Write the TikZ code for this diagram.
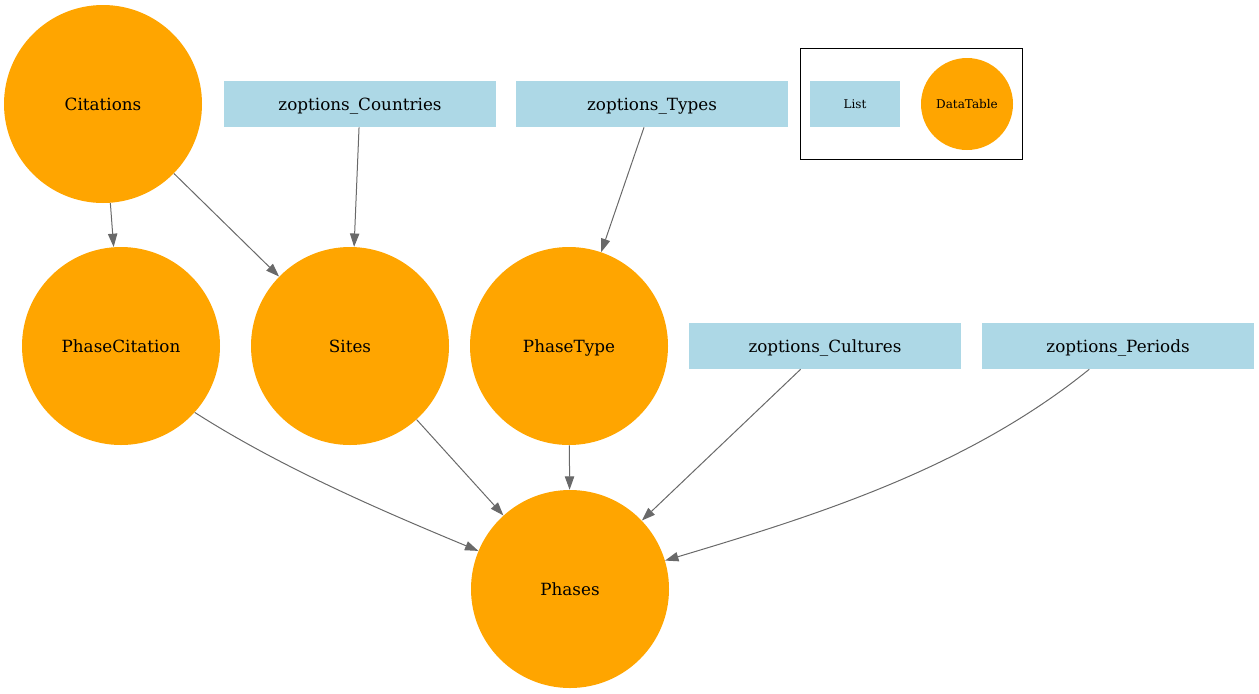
\documentclass[tikz,border=0pt]{standalone}
\usepackage{fontspec}
\setmainfont{DejaVu Serif}
\usetikzlibrary{arrows.meta}
\definecolor{dtorange}{HTML}{FFA500}
\definecolor{listblue}{HTML}{ADD8E6}
\definecolor{edgegray}{HTML}{696969}
\tikzset{
  maintext/.style={font=\fontsize{12.6}{15}\selectfont, text height=12.6pt, text depth=2.6pt},
  legtext/.style={font=\fontsize{9}{11}\selectfont, text height=9pt, text depth=1.9pt},
  dtable/.style={circle, fill=dtorange, minimum size=148.5pt, inner sep=0pt, maintext},
  listbox/.style={rectangle, fill=listblue, minimum width=204pt, minimum height=34.5pt,
    inner sep=0pt, maintext},
  legdt/.style={circle, fill=dtorange, minimum size=69pt, inner sep=0pt, legtext},
  leglist/.style={rectangle, fill=listblue, minimum width=67.5pt, minimum height=34.5pt,
    inner sep=0pt, legtext},
  edge/.style={draw=edgegray, line width=0.75pt,
    -{Triangle[length=10pt,width=7pt,fill=edgegray]}},
}
\begin{document}
\begin{tikzpicture}[x=0.75pt,y=-0.75pt]
\useasboundingbox (0,0) rectangle (1259,693);
% legend
\draw[line width=0.75pt, black] (800,48) rectangle (1022,159);
\node[leglist] (lgList) at (855,104) {List};
\node[legdt] (lgDT) at (967,104) {DataTable};
% nodes
\node[dtable] (cit) at (103,104) {Citations};
\node[listbox] (cty) at (360,104) {zoptions\_Countries};
\node[listbox] (typ) at (652,104) {zoptions\_Types};
\node[dtable] (pcit) at (121,346) {PhaseCitation};
\node[dtable] (sites) at (350,346) {Sites};
\node[dtable] (ptype) at (569,346) {PhaseType};
\node[listbox] (cul) at (825,346) {zoptions\_Cultures};
\node[listbox] (per) at (1118,346) {zoptions\_Periods};
\node[dtable] (ph) at (570,589) {Phases};
% edges
\draw[edge] (cit) -- (pcit);
\draw[edge] (cit) -- (sites);
\draw[edge] (cty) -- (sites);
\draw[edge] (typ) -- (ptype);
\draw[edge] (pcit.-42) .. controls (280,467) and (380,510) .. (ph);
\draw[edge] (sites) -- (ph);
\draw[edge] (ptype) -- (ph);
\draw[edge] (cul) -- (ph);
\draw[edge] (per) .. controls (966,469) and (814,516) .. (ph);
\end{tikzpicture}
\end{document}
